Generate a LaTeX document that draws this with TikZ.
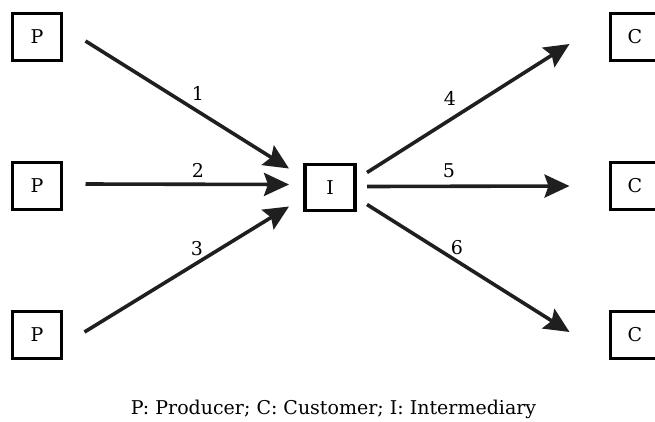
\documentclass[tikz,border=0pt]{standalone}
\usepackage{fontspec}
\setmainfont{DejaVu Serif}
\usetikzlibrary{arrows.meta,calc}

\begin{document}
\begin{tikzpicture}[x=1pt, y=-1pt]
\tikzset{ >={Stealth[length=25pt,width=23pt,inset=4pt]}, inner sep=0pt, outer sep=0pt,
  agent/.style={draw, line width=3.2pt, minimum width=49pt, minimum height=47pt,
    font=\fontsize{19}{23}\selectfont},
  flow/.style={->, line width=3.6pt, color=black!88},
  num/.style={font=\fontsize{19}{23}\selectfont},
}
\useasboundingbox (0,0) rectangle (655,421);

%\draw [lightgray, dashed](0,0) grid (655,421);

\node [agent] (P1) at (37,37)  {P};
\node [agent] (P2) at (37,186) {P};
\node [agent] (P3) at (37,335) {P};

\node [agent, minimum width=50pt, minimum height=46pt] (I) at (330,187.5) {I};

\node [agent] (C1) at (635,37)  {C};
\node [agent] (C2) at (635,186) {C};
\node [agent] (C3) at (635,335) {C};

\draw [flow] ($(P1.east)+(24,4)$)  -- ($(I.west)+(-16,-19)$);
\draw [flow] ($(P2.east)+(24,-2)$) -- ($(I.west)+(-16,-3)$);
\draw [flow] ($(P3.east)+(23,-3)$) -- ($(I.west)+(-16,19)$);

\draw [flow] ($(I.east)+(12,-15)$) -- ($(C1.west)+(-41,7)$);
\draw [flow] ($(I.east)+(12,-1)$)  -- ($(C2.west)+(-41,0)$);
\draw [flow] ($(I.east)+(12,17)$)  -- ($(C3.west)+(-41,-3)$);

\node [num] (n1) at (198,93)  {1};
\node [num] (n2) at (198,170) {2};
\node [num] (n3) at (197,249) {3};
\node [num] (n4) at (450,98)  {4};
\node [num] (n5) at (449,171) {5};
\node [num] (n6) at (457,248) {6};

\node [num, anchor=base] (key) at (333.5,414) {P: Producer; C: Customer; I: Intermediary};
\end{tikzpicture}
\end{document}
